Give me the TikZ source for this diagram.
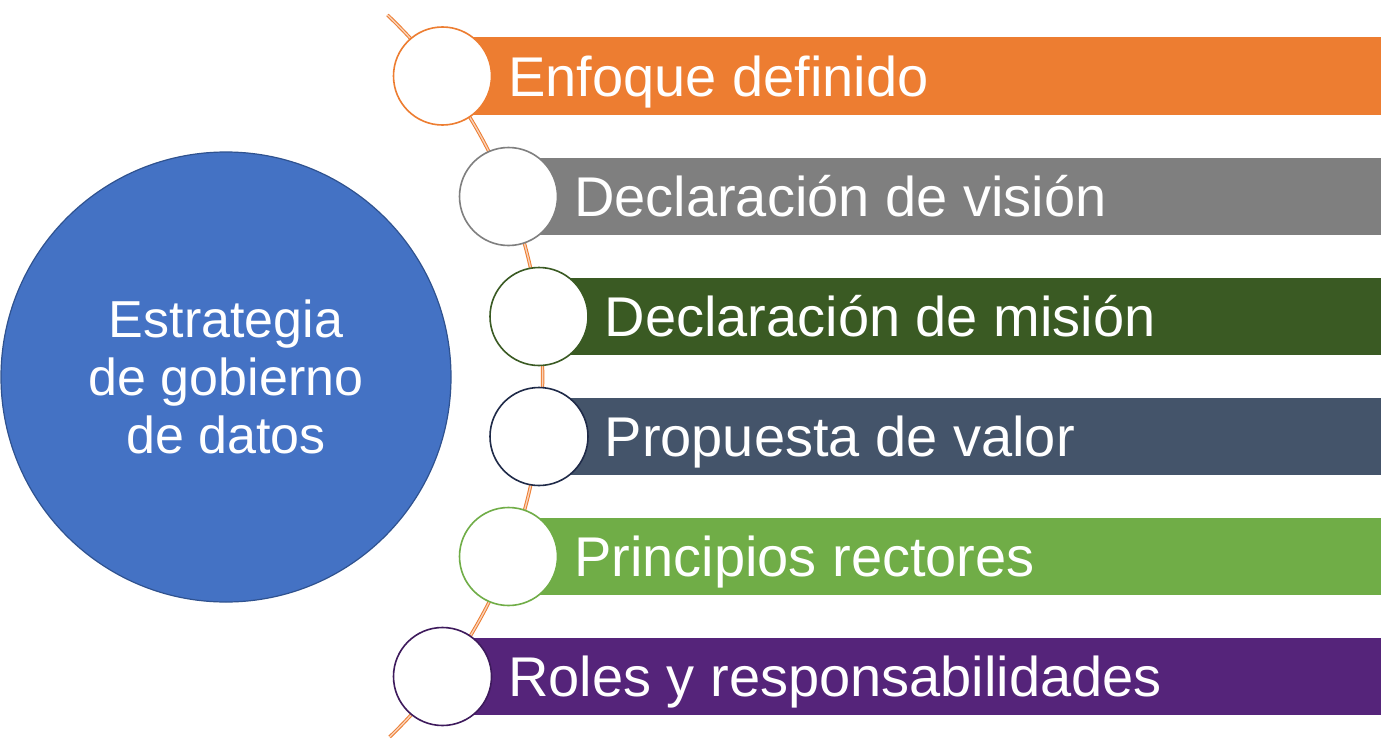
\documentclass[tikz,border=0pt]{standalone}
\usepackage{fontspec}
\setmainfont{Liberation Sans}
\definecolor{cOrange}{HTML}{ED7D31}
\definecolor{cGray}{HTML}{7F7F7F}
\definecolor{cDGreen}{HTML}{3A5A23}
\definecolor{cSlate}{HTML}{44546A}
\definecolor{cSlateB}{HTML}{1F2A48}
\definecolor{cGreen}{HTML}{70AD47}
\definecolor{cPurple}{HTML}{55247A}
\definecolor{cPurpleB}{HTML}{3E1A5C}
\definecolor{cBlue}{HTML}{4472C4}
\definecolor{cBlueB}{HTML}{2F528F}
\tikzset{
  dot/.style={circle, draw, fill=white, line width=1.6pt, minimum size=98pt, inner sep=0pt},
  bartext/.style={anchor=base west, text=white, font=\fontsize{56}{67}\selectfont, inner sep=0pt},
  spine/.style={draw=cOrange, double=cOrange!35!white, line width=1pt, double distance=1.4pt},
}
\begin{document}
\begin{tikzpicture}[x=1pt,y=1pt]
\fill[white] (0,0) rectangle (1381,-752);
\useasboundingbox (0,0) rectangle (1381,-752);
% spine arc
\draw[spine] (42.6,-377) ++(-46.05:500) arc[start angle=-46.05, end angle=46.39, radius=500];
% bars
\fill[cOrange] (442.5,-37.5) rectangle (1381,-114.5);
\fill[cGray]   (508.5,-158) rectangle (1381,-235);
\fill[cDGreen] (539,-278) rectangle (1381,-355);
\fill[cSlate]  (539,-398) rectangle (1381,-475);
\fill[cGreen]  (508.5,-518) rectangle (1381,-595);
\fill[cPurple] (442.5,-638) rectangle (1381,-715);
% circles
\node[dot, draw=cOrange] (c1) at (442.5,-76) {};
\node[dot, draw=cGray] (c2) at (508.5,-196.5) {};
\node[dot, draw=cDGreen] (c3) at (539,-316.5) {};
\node[dot, draw=cSlateB] (c4) at (539,-436.5) {};
\node[dot, draw=cGreen] (c5) at (508.5,-556.5) {};
\node[dot, draw=cPurpleB] (c6) at (442.5,-676.5) {};
% texts
\node[bartext] (t1) at (508,-96) {Enfoque definido};
\node[bartext] (t2) at (574,-216.5) {Declaración de visión};
\node[bartext] (t3) at (604.5,-336.5) {Declaración de misión};
\node[bartext] (t4) at (604.5,-456.5) {Propuesta de valor};
\node[bartext] (t5) at (574,-576.5) {Principios rectores};
\node[bartext] (t6) at (508,-696.5) {Roles y responsabilidades};
% main circle
\node[circle, fill=cBlue, draw=cBlueB, line width=1.2pt, minimum size=450pt, inner sep=0pt,
      text=white, align=center, font=\fontsize{52}{58}\selectfont] (main) at (226,-377)
      {Estrategia\\de gobierno\\de datos};
\end{tikzpicture}
\end{document}
